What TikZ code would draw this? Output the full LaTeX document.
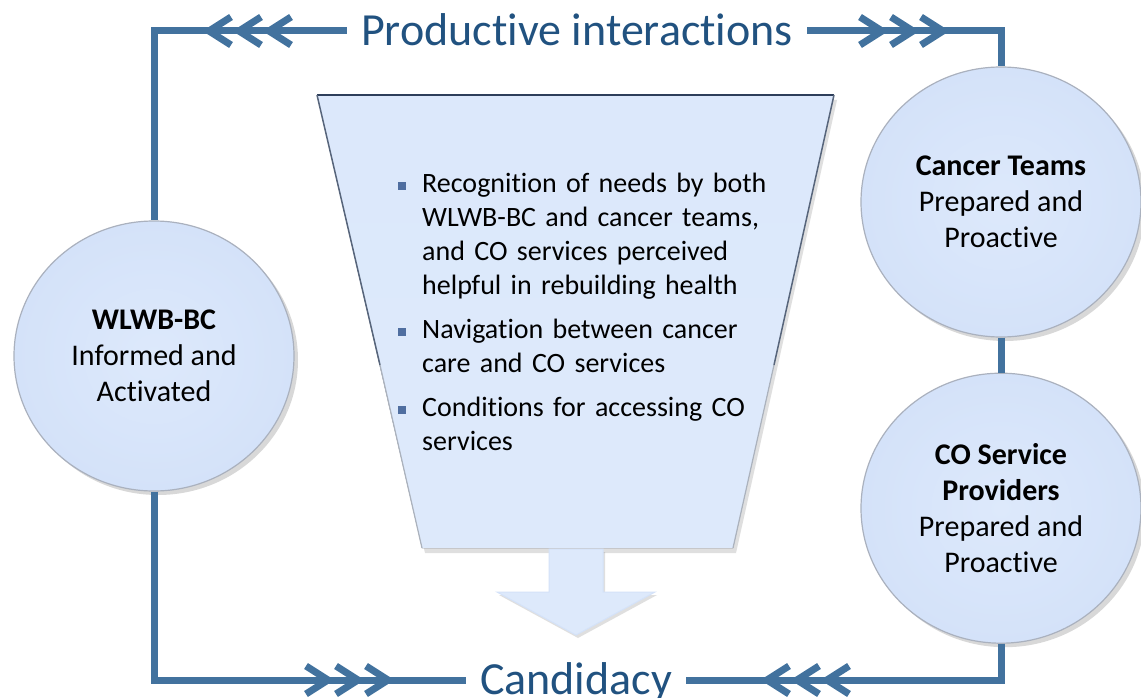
\documentclass[tikz,border=0pt]{standalone}
\usepackage{fontspec}
\setmainfont[Ligatures=NoCommon]{Carlito}
\usetikzlibrary{positioning}
\usetikzlibrary{shapes.geometric}
\usetikzlibrary{shadows}

\definecolor{framec}{RGB}{66,114,158}
\definecolor{titlec}{RGB}{33,82,128}
\definecolor{bulletc}{RGB}{79,110,160}
\definecolor{lightc}{RGB}{221,233,251}
\definecolor{edgec}{RGB}{212,226,249}
\definecolor{rimc}{RGB}{170,177,190}
\definecolor{topedge}{RGB}{45,62,90}

\newcommand{\funnelitem}[1]{\noindent\hangindent=24pt\hangafter=1%
\makebox[24pt][l]{\textcolor{bulletc}{\rule[3pt]{8pt}{8pt}}}#1\par}

\begin{document}
\begin{tikzpicture}[x=1pt,y=-1pt,
frame/.style={draw=framec, line width=7pt, line join=miter},
chevron/.style={draw=framec, line width=7pt, line join=miter},
titlenode/.style={text=titlec, font=\fontsize{46}{55}\selectfont, inner xsep=14pt, inner ysep=0pt, text height=29pt, text depth=0pt},
actor/.style={ellipse, draw=rimc, line width=1.2pt, inner color=lightc, outer color=edgec, minimum width=280pt, minimum height=270pt, inner sep=0pt, align=center, font=\fontsize{30}{36}\selectfont, drop shadow={shadow xshift=4pt, shadow yshift=-4pt, opacity=0.3}},
]
\useasboundingbox (0,0) rectangle (1141,698);
\fill[white] (0,0) rectangle (1141,698);

%Funnel
\fill[top color=lightc!90!edgec, bottom color=lightc, drop shadow={shadow xshift=3pt, shadow yshift=-5pt, opacity=0.25}]
  (317,95) -- (834,95) -- (733,548) -- (422,548) -- cycle;
\draw[topedge, line width=2pt] (317,95) -- (834,95);
\draw[topedge!80, line width=1.5pt] (317,95) -- (380,365);
\draw[topedge!40, line width=1.2pt] (380,365) -- (422,548);
\draw[topedge!80, line width=1.5pt] (834,95) -- (774,365);
\draw[topedge!40, line width=1.2pt] (774,365) -- (733,548);

%Down arrow
\fill[lightc, draw=edgec, line width=1pt, drop shadow={shadow xshift=2pt, shadow yshift=-3pt, opacity=0.25}]
  (549,549) -- (603,549) -- (603,592) -- (655,592) -- (576,635) -- (497,592) -- (549,592) -- cycle;

%Nodes
\node[titlenode] (prod) at (577,31) {Productive interactions};
\node[titlenode] (cand) at (576,680) {Candidacy};
\node[actor] (wlwb) at (154,356) {\textbf{WLWB-BC}\\Informed and\\Activated};
\node[actor] (cteam) at (1001,202) {\textbf{Cancer Teams}\\Prepared and\\Proactive};
\node[actor] (cosp) [below=35pt of cteam] {\textbf{CO Service}\\\textbf{Providers}\\Prepared and\\Proactive};

\node[anchor=base west, text width=380pt, inner sep=0pt, align=left, font=\fontsize{28}{34}\selectfont] (needs) at (398,193)
{\funnelitem{Recognition of needs by both\newline WLWB-BC and cancer teams,\newline and CO services perceived\newline helpful in rebuilding health}\vspace{10pt}
\funnelitem{Navigation between cancer\newline care and CO services}\vspace{10pt}
\funnelitem{Conditions for accessing CO\newline services}};

%Lines
\draw[frame] (prod.west) -| (wlwb.north);
\draw[frame] (prod.east) -| (cteam.north);
\draw[frame] (cteam.south) -- (cosp.north);
\draw[frame] (wlwb.south) |- (cand.west);
\draw[frame] (cosp.south) |- (cand.east);

%Chevrons
\foreach \t in {209,239,269} \draw[chevron] (\t+22,17) -- (\t,31) -- (\t+22,45);
\foreach \t in {882,913,943} \draw[chevron] (\t-22,17) -- (\t,31) -- (\t-22,45);
\foreach \t in {328,358,388} \draw[chevron] (\t-22,666) -- (\t,680) -- (\t-22,694);
\foreach \t in {767,797,827} \draw[chevron] (\t+22,666) -- (\t,680) -- (\t+22,694);
\end{tikzpicture}
\end{document}
